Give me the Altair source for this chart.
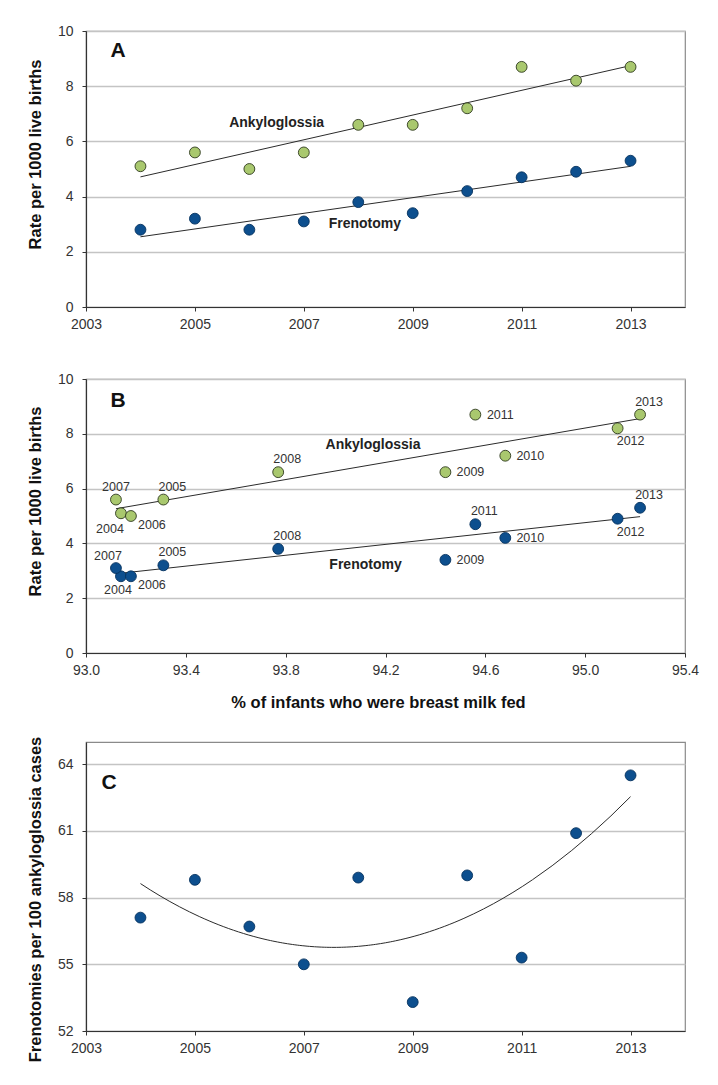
import altair as alt
import pandas as pd

FONT = "Liberation Sans"

# ---------------- data ----------------
years = [2004, 2005, 2006, 2007, 2008, 2009, 2010, 2011, 2012, 2013]
ankyloglossia_rate = [5.1, 5.6, 5.0, 5.6, 6.6, 6.6, 7.2, 8.7, 8.2, 8.7]
frenotomy_rate = [2.8, 3.2, 2.8, 3.1, 3.8, 3.4, 4.2, 4.7, 4.9, 5.3]
breast_milk_fed_pct = [93.14, 93.31, 93.18, 93.12, 93.77, 94.44, 94.68, 94.56, 95.13, 95.22]
frenotomies_per_100 = [57.1, 58.8, 56.7, 55.0, 58.9, 53.3, 59.0, 55.3, 60.9, 63.5]

series_names = ["Ankyloglossia", "Frenotomy"]
series_fill = ["#a9c86e", "#0d4f8e"]
series_stroke = ["#2f3a1e", "#06325f"]

year_ticks = [2003, 2005, 2007, 2009, 2011, 2013]
rate_ticks = [0, 2, 4, 6, 8, 10]
pct_ticks = [93.0, 93.4, 93.8, 94.2, 94.6, 95.0, 95.4]
ratio_ticks = [52, 55, 58, 61, 64]

# year-label placement around the points in panel B
ank_label_place = ["b-", "a+", "br", "a0", "a+", "r", "r", "r", "b+", "a+"]
fren_label_place = ["b0", "a+", "br", "al", "a+", "r", "r", "a+", "b+", "a+"]
place_offsets = {"a0": (0, -13), "a+": (9, -13), "al": (-8, -12), "b-": (-11, 16),
                 "b0": (-3, 14), "b+": (13, 13), "br": (21, 9), "r": (25, 0)}

# series annotations (data coordinates)
ann_a_x = [2006.5, 2008.12]
ann_a_y = [6.65, 3.0]
ann_b_x = [94.15, 94.12]
ann_b_y = [7.59, 3.21]

# ---------------- tables ----------------
long_df = pd.DataFrame({
    "year": years * 2,
    "series": [series_names[0]] * len(years) + [series_names[1]] * len(years),
    "rate": ankyloglossia_rate + frenotomy_rate,
    "pct": breast_milk_fed_pct * 2,
    "place": ank_label_place + fren_label_place,
    "label": [str(y) for y in years] * 2,
})
c_df = pd.DataFrame({"year": years, "ratio": frenotomies_per_100})
ann_a = pd.DataFrame({"year": ann_a_x, "rate": ann_a_y, "series": series_names})
ann_b = pd.DataFrame({"pct": ann_b_x, "rate": ann_b_y, "series": series_names})

W = 599
fill_scale = alt.Scale(domain=series_names, range=series_fill)
stroke_scale = alt.Scale(domain=series_names, range=series_stroke)

y_axis_common = dict(labelPadding=9, titlePadding=14)


def letter(txt, x, y):
    return alt.Chart(pd.DataFrame({"t": [txt]})).mark_text(
        font=FONT, fontSize=21, fontWeight="bold", color="#111", align="center", baseline="middle"
    ).encode(text="t:N", x=alt.value(x), y=alt.value(y))


def points(data, xf):
    return alt.Chart(data).mark_point(
        shape="circle", filled=True, size=118, strokeWidth=0.9, opacity=1
    ).encode(
        x=xf, y="rate:Q",
        fill=alt.Fill("series:N", scale=fill_scale, legend=None),
        stroke=alt.Stroke("series:N", scale=stroke_scale, legend=None),
    )


def trend(data, xf, yf, grouped=True, **kw):
    enc = dict(x=f"{xf}:Q", y=f"{yf}:Q")
    if grouped:
        enc["detail"] = "series:N"
        kw["groupby"] = ["series"]
    return alt.Chart(data).transform_regression(xf, yf, **kw).mark_line(
        color="#2b2b2b", strokeWidth=1
    ).encode(**enc)


# ---------------- panel A ----------------
HA = 276
xA = alt.X("year:Q", scale=alt.Scale(domain=[2003, 2014], nice=False, zero=False),
           axis=alt.Axis(values=year_ticks, format="d", title=None, grid=False, labelFlush=False))
yA = alt.Y("rate:Q", scale=alt.Scale(domain=[0, 10], nice=False),
           axis=alt.Axis(values=rate_ticks, title="Rate per 1000 live births", titleY=HA / 2 - 15, **y_axis_common))

base_a = alt.Chart(long_df).mark_point(opacity=0).encode(x=xA, y=yA)
panel_a = alt.layer(
    base_a,
    trend(long_df, "year", "rate"),
    points(long_df, "year:Q"),
    alt.Chart(ann_a).mark_text(font=FONT, fontSize=14, fontWeight="bold", color="#222").encode(
        x="year:Q", y="rate:Q", text="series:N"),
    letter("A", 32, 20),
).properties(width=W, height=HA)

# ---------------- panel B ----------------
HB = 274
xB = alt.X("pct:Q", scale=alt.Scale(domain=[93.0, 95.4], nice=False, zero=False),
           axis=alt.Axis(values=pct_ticks, format=".1f", title="% of infants who were breast milk fed",
                         grid=False, labelFlush=False, titlePadding=17, titleX=292))
yB = alt.Y("rate:Q", scale=alt.Scale(domain=[0, 10], nice=False),
           axis=alt.Axis(values=rate_ticks, title="Rate per 1000 live births", titleY=HB / 2 - 15, **y_axis_common))

base_b = alt.Chart(long_df).mark_point(opacity=0).encode(x=xB, y=yB)
label_layers = []
for key, (dx, dy) in place_offsets.items():
    label_layers.append(
        alt.Chart(long_df).transform_filter(alt.datum.place == key).mark_text(
            font=FONT, fontSize=12.5, color="#333", dx=dx, dy=dy, align="center", baseline="middle"
        ).encode(x="pct:Q", y="rate:Q", text="label:N")
    )
panel_b = alt.layer(
    base_b,
    trend(long_df, "pct", "rate"),
    points(long_df, "pct:Q"),
    *label_layers,
    alt.Chart(ann_b).mark_text(font=FONT, fontSize=14, fontWeight="bold", color="#222").encode(
        x="pct:Q", y="rate:Q", text="series:N"),
    letter("B", 32, 22),
).properties(width=W, height=HB)

# ---------------- panel C ----------------
HC = 289
xC = alt.X("year:Q", scale=alt.Scale(domain=[2003, 2014], nice=False, zero=False),
           axis=alt.Axis(values=year_ticks, format="d", title=None, grid=False, labelFlush=False))
yC = alt.Y("ratio:Q", scale=alt.Scale(domain=[52, 65], nice=False, zero=False),
           axis=alt.Axis(values=ratio_ticks, title="Frenotomies per 100 ankyloglossia cases",
                         titleY=HC / 2 + 12.5, **y_axis_common))
panel_c = alt.layer(
    alt.Chart(c_df).mark_point(opacity=0).encode(x=xC, y=yC),
    trend(c_df, "year", "ratio", grouped=False, method="poly", order=2),
    alt.Chart(c_df).mark_point(shape="circle", filled=True, size=118, fill=series_fill[1],
                               stroke=series_stroke[1], strokeWidth=0.9, opacity=1).encode(
        x="year:Q", y="ratio:Q"),
    letter("C", 23, 41),
).properties(width=W, height=HC)

top = alt.vconcat(panel_a, panel_b, spacing=39)
chart = alt.vconcat(top, panel_c, spacing=23).properties(
    padding={"left": 18, "top": 15, "right": 5, "bottom": 5}
).configure_axis(
    labelFont=FONT, labelFontSize=14, labelColor="#333",
    titleFont=FONT, titleFontSize=16.5, titleFontWeight="bold", titleColor="#111",
    domainColor="#333", domainWidth=1.2, tickColor="#333", tickSize=4, tickWidth=1,
    gridColor="#c4c4c4", gridWidth=1.3, labelPadding=6,
).configure_view(stroke="#8a8a8a", strokeWidth=1.2)

chart.save("out.html", embed_options={"renderer": "svg", "actions": False})
